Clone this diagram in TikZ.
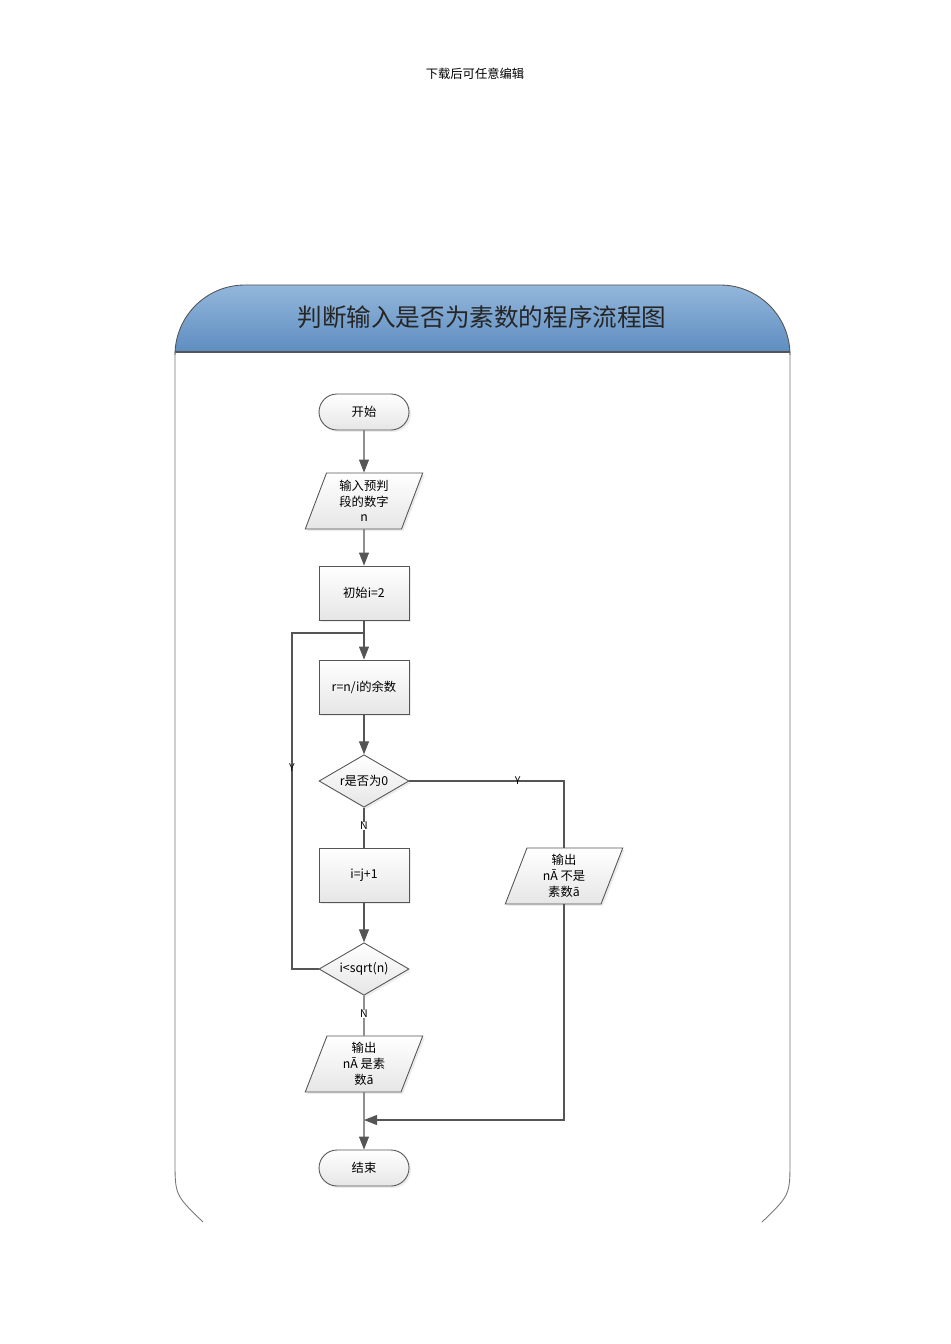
\documentclass[tikz,border=0pt]{standalone}
\usepackage{fontspec}
\setmainfont{Noto Sans CJK SC}
\usetikzlibrary{shapes.geometric,arrows.meta,shadows}

\definecolor{hdrtop}{HTML}{93B7DB}
\definecolor{hdrbot}{HTML}{5E8DC0}
\definecolor{boxgray}{HTML}{E6E6E6}
\definecolor{linegray}{HTML}{555555}

\tikzset{
    base/.style={draw=linegray, line width=0.5pt, top color=white, bottom color=boxgray,
        drop shadow={opacity=0.15, shadow xshift=0.04cm, shadow yshift=-0.04cm},
        font=\fontsize{7}{9}\selectfont, align=center},
    term/.style={base, rectangle, rounded corners=0.36cm, minimum width=1.8cm, minimum height=0.72cm},
    proc/.style={base, rectangle, minimum width=1.8cm, minimum height=1.08cm},
    dec/.style={base, diamond, aspect=1.75, minimum width=1.8cm, minimum height=1.05cm, inner sep=0pt},
    io/.style={base, trapezium, trapezium left angle=65, trapezium right angle=115,
        trapezium stretches body, minimum width=2.35cm, minimum height=1.12cm, inner sep=1pt},
    flow/.style={draw=linegray, line width=0.6pt, -{Triangle[length=2.6mm, width=2mm]}},
    link/.style={draw=linegray, line width=0.6pt},
    tag/.style={font=\fontsize{6}{7}\selectfont, inner sep=0pt}
}

\begin{document}
\begin{tikzpicture}[x=0.02cm, y=-0.02cm]
\useasboundingbox (0,0) rectangle (950,1344);

\node[font=\fontsize{7}{8}\selectfont] (note) at (475,74) {下载后可任意编辑};

% frame
\shade[top color=hdrtop, bottom color=hdrbot, rounded corners=1.4cm]
    (175,352) -- (175,285) -- (790,285) [sharp corners] -- (790,352) -- cycle;
\draw[linegray, line width=0.5pt, rounded corners=1.4cm] (175,352) -- (175,285) -- (790,285) -- (790,352);
\draw[linegray, line width=0.6pt] (175,352) -- (790,352);
\draw[linegray!80, line width=0.5pt] (175,352) -- (175,1160) .. controls (175,1195) .. (203,1222);
\draw[linegray!80, line width=0.5pt] (790,352) -- (790,1160) .. controls (790,1195) .. (762,1222);
\node[font=\fontsize{14}{16}\selectfont, text=black!85] (title) at (482,317) {判断输入是否为素数的程序流程图};

% nodes
\node[term] (start) at (364,412) {开始};
\node[io] (input) at (364,501) {输入预判\\段的数字\\n};
\node[proc] (init) at (364,593) {初始i=2};
\node[proc] (rem) at (364,687) {r=n/i的余数};
\node[dec] (iszero) at (364,781) {r是否为0};
\node[proc] (inc) at (364,875) {i=j+1};
\node[dec] (cmp) at (364,969) {i<sqrt(n)};
\node[io] (yes) at (364,1064) {输出\\nĀ 是素\\数ā};
\node[io] (no) at (564,876) {输出\\nĀ 不是\\素数ā};
\node[term] (stop) at (364,1168) {结束};

\coordinate (loop) at (364,633);
\coordinate (merge) at (364,1120);
\coordinate (bend) at (564,781);

% connectors
\draw[flow] (start) -- (input);
\draw[flow] (input) -- (init);
\draw[flow] (init) -- (rem);
\draw[flow] (rem) -- (iszero);
\draw[link] (iszero) -- node[tag, pos=0.45, fill=white] {N} (inc);
\draw[flow] (inc) -- (cmp);
\draw[link] (cmp) -- node[tag, pos=0.45, fill=white] {N} (yes);
\draw[link] (cmp.west) -| node[tag, pos=0.8] {Y} (292,633) -- (loop);
\draw[link] (iszero.east) -- node[tag, pos=0.7] {Y} (bend) -- (no.north -| bend);
\draw[flow] (no.south -| bend) |- (merge);
\draw[flow] (yes) -- (stop);
\end{tikzpicture}
\end{document}
